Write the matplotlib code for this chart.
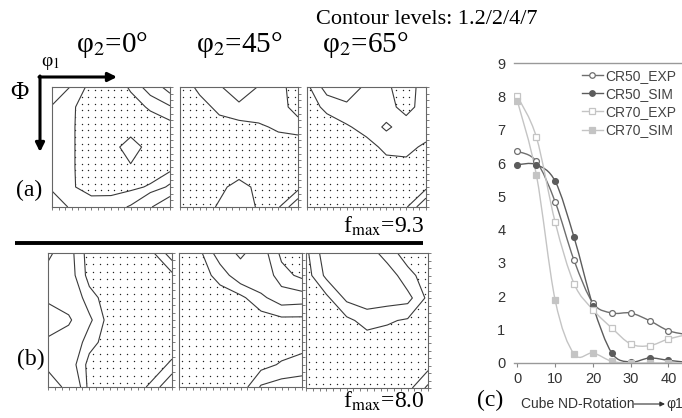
import numpy as np
import matplotlib
matplotlib.use('Agg')
import matplotlib.pyplot as plt
from matplotlib.path import Path
from matplotlib.patches import PathPatch
from matplotlib.lines import Line2D

plt.rcParams['mathtext.fontset'] = 'stix'

# ODF sections, rows = Phi 0..90, cols = phi1 0..90 (15 deg grid)
grid_deg = [0, 15, 30, 45, 60, 75, 90]
contour_levels = [1.2, 2, 4, 7]

odf_a_phi0 = [[3.0, 1.9, 0.9, 0.7, 1.3, 2.5, 5.0],
              [1.9, 1.3, 0.8, 0.6, 0.9, 1.3, 1.8],
              [1.5, 1.3, 0.7, 0.6, 0.7, 0.8, 0.9],
              [1.5, 1.3, 0.7, 0.8, 1.7, 0.8, 0.7],
              [1.5, 1.3, 0.7, 0.7, 1.1, 0.7, 0.9],
              [1.8, 1.3, 0.8, 0.9, 1.0, 1.3, 2.2],
              [2.8, 1.8, 1.7, 1.6, 2.1, 3.8, 6.0]]
odf_a_phi45 = [[0.7, 1.4, 1.9, 2.6, 1.95, 1.4, 0.9],
               [0.6, 0.9, 1.4, 1.8, 1.6, 1.4, 1.0],
               [0.6, 0.7, 0.9, 0.9, 1.1, 1.3, 1.4],
               [0.6, 0.6, 0.7, 0.8, 0.8, 0.9, 0.9],
               [0.6, 0.6, 0.7, 0.7, 0.8, 0.8, 0.8],
               [0.6, 0.7, 1.0, 1.5, 1.0, 0.8, 0.9],
               [0.6, 0.8, 1.3, 1.7, 1.1, 1.1, 2.8]]
odf_a_phi65 = [[1.0, 2.4, 2.6, 1.8, 1.3, 0.9, 1.5],
               [0.8, 1.4, 1.8, 1.7, 1.5, 0.9, 1.6],
               [0.7, 0.8, 1.1, 1.5, 2.15, 1.6, 1.8],
               [0.7, 0.7, 0.8, 0.9, 1.4, 1.5, 1.0],
               [0.7, 0.7, 0.7, 0.8, 0.9, 0.9, 0.8],
               [0.7, 0.7, 0.7, 0.7, 0.8, 0.9, 1.0],
               [0.7, 0.7, 0.7, 0.7, 0.8, 1.1, 2.8]]
odf_b_phi0 = [[4.5, 2.4, 0.8, 0.7, 0.7, 1.0, 2.5],
              [3.2, 2.5, 0.9, 0.7, 0.7, 0.8, 1.0],
              [3.5, 3.0, 1.5, 0.8, 0.7, 0.7, 0.8],
              [5.5, 4.3, 2.2, 0.8, 0.7, 0.7, 0.7],
              [3.5, 3.0, 1.5, 0.8, 0.7, 0.7, 0.9],
              [3.6, 2.6, 0.9, 0.7, 0.7, 0.9, 1.3],
              [5.0, 3.5, 0.9, 0.7, 0.9, 1.3, 3.0]]
odf_b_phi45 = [[0.8, 1.0, 2.5, 4.5, 2.5, 1.0, 0.8],
               [0.7, 0.8, 1.5, 2.6, 2.8, 1.5, 1.0],
               [0.7, 0.7, 0.8, 1.0, 1.8, 2.5, 2.4],
               [0.7, 0.7, 0.7, 0.7, 0.8, 1.0, 1.0],
               [0.7, 0.7, 0.7, 0.7, 0.7, 0.7, 0.8],
               [0.7, 0.7, 0.7, 0.7, 0.9, 1.3, 1.6],
               [0.7, 0.7, 0.7, 0.7, 2.1, 2.4, 2.4]]
odf_b_phi65 = [[1.0, 2.5, 3.0, 2.6, 1.5, 0.9, 0.8],
               [0.8, 2.2, 2.8, 3.0, 2.6, 1.4, 0.9],
               [0.7, 1.0, 2.2, 2.5, 2.4, 2.3, 1.0],
               [0.7, 0.7, 1.0, 1.5, 1.3, 1.1, 0.8],
               [0.7, 0.7, 0.7, 0.8, 0.8, 0.8, 0.8],
               [0.7, 0.7, 0.7, 0.7, 0.7, 0.8, 0.9],
               [0.7, 0.7, 0.7, 0.7, 0.7, 0.9, 2.2]]

# cube ND-rotation curves
rotation = [0, 5, 10, 15, 20, 25, 30, 35, 40, 45]
cr50_exp = [6.35, 6.05, 4.83, 3.08, 1.8, 1.5, 1.5, 1.27, 0.97, 0.85]
cr50_sim = [5.95, 5.95, 5.45, 3.77, 1.72, 0.3, 0.03, 0.15, 0.08, 0.02]
cr70_exp = [8.0, 6.78, 4.22, 2.38, 1.6, 1.05, 0.57, 0.52, 0.72, 0.85]
cr70_sim = [7.85, 5.65, 1.88, 0.27, 0.3, 0.05, 0.0, 0.0, 0.0, 0.0]

W, H = 682, 418
fig = plt.figure(figsize=(W / 100, H / 100), dpi=100)


def px_axes(x0, y0, x1, y1):
    return fig.add_axes([x0 / W, 1 - y1 / H, (x1 - x0) / W, (y1 - y0) / H])


def draw_odf(ax, values):
    z = np.array(values)
    ax.contour(grid_deg, grid_deg, z, levels=contour_levels, colors='#3a3a3a', linewidths=0.8)
    low = ax.contourf(grid_deg, grid_deg, z, levels=[0, 1.2], colors='none')
    gx, gy = np.meshgrid(np.arange(2.5, 90, 5), np.arange(2.5, 90, 5))
    dots = ax.scatter(gx.ravel(), gy.ravel(), s=1.0, c='#222222', linewidths=0)
    dots.set_clip_path(low.get_paths()[0], ax.transData)
    ax.set_xlim(0, 90)
    ax.set_ylim(90, 0)
    ax.set_xticks(np.arange(0, 91, 5))
    ax.set_yticks(np.arange(0, 91, 5))
    ax.tick_params(labelbottom=False, labelleft=False, left=False, right=True,
                   direction='out', length=2, width=0.6, color='#666666')
    for sp in ax.spines.values():
        sp.set_color('#666666')
        sp.set_linewidth(0.8)


panels = [((52, 87, 170, 207), odf_a_phi0), ((180, 87, 298, 207), odf_a_phi45),
          ((307, 87, 426, 207), odf_a_phi65), ((48, 253, 172, 387), odf_b_phi0),
          ((179, 253, 302, 387), odf_b_phi45), ((306, 253, 428, 388), odf_b_phi65)]
for box, vals in panels:
    draw_odf(px_axes(*box), vals)

# overlay in pixel coordinates for labels / arrows
bg = fig.add_axes([0, 0, 1, 1], zorder=-1)
bg.set_xlim(0, W)
bg.set_ylim(H, 0)
bg.axis('off')

serif = 'Liberation Serif'
bg.text(316, 19, 'Contour levels: 1.2/2/4/7', family=serif, fontsize=16, va='center', ha='left')
for xc, lab in [(112, '0°'), (239, '45°'), (365, '65°')]:
    bg.text(xc, 45, 'φ$_2$=' + lab, family=serif, fontsize=21, ha='center', va='center')
bg.text(50, 64, 'φ$_1$', family=serif, fontsize=14, ha='center', va='center')
bg.text(19, 93, 'Φ', family=serif, fontsize=18, ha='center', va='center')
bg.annotate('', xy=(117, 77), xytext=(39, 77),
            arrowprops=dict(arrowstyle='-|>', lw=2.2, color='k', mutation_scale=13, shrinkA=0, shrinkB=0))
bg.annotate('', xy=(40, 152), xytext=(40, 76),
            arrowprops=dict(arrowstyle='-|>', lw=2.2, color='k', mutation_scale=13, shrinkA=0, shrinkB=0))
bg.text(29, 190, '(a)', family=serif, fontsize=17, ha='center', va='center')
bg.text(31, 359, '(b)', family=serif, fontsize=17, ha='center', va='center')
bg.text(425, 226, r'f$_{\mathrm{max}}$=9.3', family=serif, fontsize=17, ha='right', va='center')
bg.text(425, 401, r'f$_{\mathrm{max}}$=8.0', family=serif, fontsize=17, ha='right', va='center')
bg.plot([15, 423], [243, 243], color='k', lw=2.8, solid_capstyle='butt')

# right chart
ax = px_axes(513.7, 63, 682, 363)
ax.set_xlim(-1, 43.6)
ax.set_ylim(0, 9)


def smooth_path(xs, ys):
    # catmull-rom style bezier through the measured points
    pts = np.column_stack([xs, ys]).astype(float)
    ext = np.vstack([pts[0], pts, pts[-1]])
    verts = [tuple(pts[0])]
    codes = [Path.MOVETO]
    for i in range(len(pts) - 1):
        p0, p1, p2, p3 = ext[i], ext[i + 1], ext[i + 2], ext[i + 3]
        c1 = p1 + (p2 - p0) / 6
        c2 = p2 - (p3 - p1) / 6
        verts += [tuple(c1), tuple(c2), tuple(p2)]
        codes += [Path.CURVE4] * 3
    return Path(verts, codes)


series = [('CR50_EXP', cr50_exp, '#6e6e6e', 'o', 'white'),
          ('CR50_SIM', cr50_sim, '#5c5c5c', 'o', '#5c5c5c'),
          ('CR70_EXP', cr70_exp, '#c4c4c4', 's', 'white'),
          ('CR70_SIM', cr70_sim, '#c4c4c4', 's', '#c4c4c4')]
handles = []
for name, vals, col, mk, fc in series:
    ax.add_patch(PathPatch(smooth_path(rotation, vals), fill=False, edgecolor=col, lw=1.0))
    ax.plot(rotation, vals, linestyle='none', marker=mk, ms=4.2, mfc=fc, mec=col, mew=0.9)
    handles.append(Line2D([], [], color=col, lw=1.0, marker=mk, ms=4.0, mfc=fc, mec=col, mew=0.9))
ax.legend(handles, [s[0] for s in series], loc='upper left', bbox_to_anchor=(582 / W, 1 - 69 / H),
          bbox_transform=fig.transFigure, frameon=False, handlelength=1.5,
          handletextpad=0.2, labelspacing=0.3, borderpad=0, borderaxespad=0, labelcolor='#444444',
          prop={'family': 'Liberation Sans', 'size': 10})

ax.set_xticks([0, 10, 20, 30, 40])
ax.set_yticks(range(10))
for lab in ax.get_xticklabels() + ax.get_yticklabels():
    lab.set_family('Liberation Sans')
    lab.set_fontsize(10.5)
    lab.set_color('#333333')
ax.tick_params(axis='x', direction='out', length=3, color='#888888')
ax.tick_params(axis='y', length=0, pad=6)
ax.spines['right'].set_visible(False)
ax.spines['left'].set_visible(False)
for k in ['top', 'bottom']:
    ax.spines[k].set_color('#999999')
    ax.spines[k].set_linewidth(1.0)

bg.text(527, 86, 'f(g)', family='Liberation Sans', fontsize=10, color='#333333', ha='left', va='center')
bg.annotate('', xy=(531, 103), xytext=(531, 150),
            arrowprops=dict(arrowstyle='-|>', lw=0.8, color='#333333', mutation_scale=7, shrinkA=0, shrinkB=0))
bg.text(490, 400, '(c)', family=serif, fontsize=17, ha='center', va='center')
bg.text(521, 404, 'Cube ND-Rotation', family='Liberation Sans', fontsize=10, color='#333333',
        ha='left', va='center')
bg.annotate('', xy=(665, 404), xytext=(634, 404),
            arrowprops=dict(arrowstyle='-|>', lw=0.8, color='#333333', mutation_scale=7, shrinkA=0, shrinkB=0))
bg.text(666, 404, 'φ1', family='Liberation Sans', fontsize=10, color='#333333',
        ha='left', va='center')

fig.savefig('out.png', dpi=100)
